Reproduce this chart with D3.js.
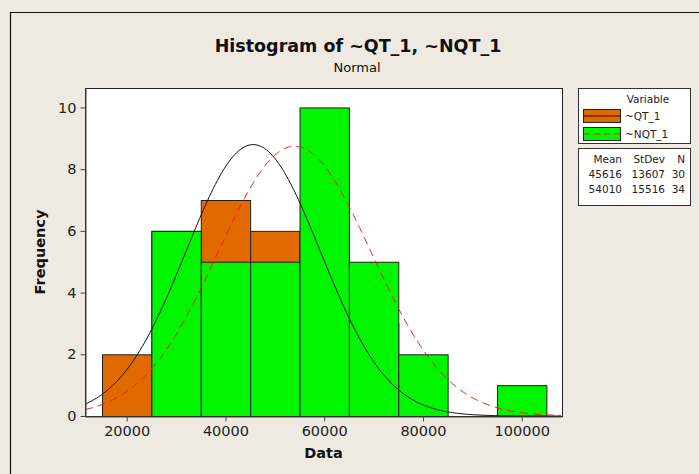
<!DOCTYPE html>
<html>
<head>
<meta charset="utf-8">
<script src="https://cdn.jsdelivr.net/npm/d3@7"></script>
<style>
  body { margin: 0; background: #efeae1; }
  svg { display: block; font-family: "DejaVu Sans", Verdana, sans-serif; }
</style>
</head>
<body>
<svg id="chart"></svg>
<script>
// bin midpoints (bin width 10000)
const binMids = [20000, 30000, 40000, 50000, 60000, 70000, 80000, 90000, 100000];
const qtCounts = [2, 6, 7, 6, 6, 3, 0, 0, 0];
const nqtCounts = [0, 6, 5, 5, 10, 5, 2, 0, 1];
const seriesNames = ["~QT_1", "~NQT_1"];
const means = [45616, 54010];
const stdevs = [13607, 15516];
const ns = [30, 34];
const xTicks = [20000, 40000, 60000, 80000, 100000];
const yTicks = [0, 2, 4, 6, 8, 10];
const binWidth = 10000;

const width = 699, height = 474;
const margin = { left: 85, right: 137, top: 88, bottom: 58 };

const svg = d3.select("#chart")
    .attr("width", width)
    .attr("height", height);

svg.append("rect")
    .attr("width", width).attr("height", height)
    .attr("fill", "#efeae1");

// outer frame (only left and top show)
svg.append("path")
    .attr("d", `M10.5,${height} V12.5 H${width}`)
    .attr("fill", "none")
    .attr("stroke", "#111")
    .attr("stroke-width", 1.2);

const x = d3.scaleLinear()
    .domain([11554, 108160])
    .range([margin.left, width - margin.right]);

const y = d3.scaleLinear()
    .domain([0, 10.63])
    .range([height - margin.bottom, margin.top]);

// plot area
svg.append("rect")
    .attr("x", x.range()[0]).attr("y", y.range()[1])
    .attr("width", x.range()[1] - x.range()[0])
    .attr("height", y.range()[0] - y.range()[1])
    .attr("fill", "white");

const colors = ["#e06a00", "#00f500"];
const counts = [qtCounts, nqtCounts];

counts.forEach((c, i) => {
    svg.append("g")
        .selectAll("rect")
        .data(binMids.map((m, j) => ({ m, v: c[j] })).filter(d => d.v > 0))
        .join("rect")
        .attr("x", d => x(d.m - binWidth / 2) + 0.5)
        .attr("y", d => y(d.v) + 0.5)
        .attr("width", d => x(d.m + binWidth / 2) - x(d.m - binWidth / 2))
        .attr("height", d => y(0) - y(d.v))
        .attr("fill", colors[i])
        .attr("stroke", "#222")
        .attr("stroke-width", 1);
});

// fitted normal curves
const xs = d3.range(x.domain()[0], x.domain()[1] + 1, 400);
const lineStyles = [
    { stroke: "#111", dash: null },
    { stroke: "#ee2222", dash: "8,5" }
];
means.forEach((mu, i) => {
    const sd = stdevs[i];
    const scale = ns[i] * binWidth / (sd * Math.sqrt(2 * Math.PI));
    const pts = xs.map(v => [v, scale * Math.exp(-0.5 * ((v - mu) / sd) ** 2)]);
    svg.append("path")
        .datum(pts)
        .attr("d", d3.line().x(d => x(d[0])).y(d => y(d[1])))
        .attr("fill", "none")
        .attr("stroke", lineStyles[i].stroke)
        .attr("stroke-width", 1)
        .attr("stroke-dasharray", lineStyles[i].dash);
});

// frame of plot area
svg.append("rect")
    .attr("x", x.range()[0] + 0.5).attr("y", y.range()[1] + 0.5)
    .attr("width", x.range()[1] - x.range()[0])
    .attr("height", y.range()[0] - y.range()[1])
    .attr("fill", "none")
    .attr("stroke", "#222");

// axes
const xAxis = svg.append("g")
    .attr("transform", `translate(0,${y(0) + 0.5})`)
    .call(d3.axisBottom(x).tickValues(xTicks).tickFormat(d3.format("d"))
        .tickSize(5).tickSizeOuter(0).tickPadding(4));
const yAxis = svg.append("g")
    .attr("transform", `translate(${x.range()[0] + 0.5},0)`)
    .call(d3.axisLeft(y).tickValues(yTicks).tickSize(5).tickSizeOuter(0).tickPadding(4));
[xAxis, yAxis].forEach(a => {
    a.select(".domain").attr("stroke", "#444");
    a.selectAll(".tick line").attr("stroke", "#444");
    a.selectAll("text").attr("font-size", 14.5).attr("fill", "#222")
        .attr("font-family", "DejaVu Sans, sans-serif");
});

// titles
svg.append("text")
    .attr("x", 358).attr("y", 52)
    .attr("text-anchor", "middle")
    .attr("font-size", 17.5).attr("font-weight", "bold").attr("fill", "#111")
    .text("Histogram of ~QT_1, ~NQT_1");
svg.append("text")
    .attr("x", 357).attr("y", 72)
    .attr("text-anchor", "middle")
    .attr("font-size", 13).attr("fill", "#111")
    .text("Normal");
svg.append("text")
    .attr("x", (x.range()[0] + x.range()[1]) / 2).attr("y", 458)
    .attr("text-anchor", "middle")
    .attr("font-size", 14.5).attr("font-weight", "bold").attr("fill", "#111")
    .text("Data");
svg.append("text")
    .attr("transform", `translate(45,${(y.range()[0] + y.range()[1]) / 2}) rotate(-90)`)
    .attr("text-anchor", "middle")
    .attr("font-size", 14.5).attr("font-weight", "bold").attr("fill", "#111")
    .text("Frequency");

// legend
const lg = svg.append("g");
lg.append("rect")
    .attr("x", 578.5).attr("y", 88.5).attr("width", 112).attr("height", 55)
    .attr("fill", "white").attr("stroke", "#333");
lg.append("text")
    .attr("x", 648).attr("y", 103).attr("text-anchor", "middle")
    .attr("font-size", 10.5).attr("fill", "#222").text("Variable");
seriesNames.forEach((name, i) => {
    const yy = 109 + i * 18;
    lg.append("rect")
        .attr("x", 583.5).attr("y", yy + 0.5).attr("width", 37).attr("height", 13)
        .attr("fill", colors[i]).attr("stroke", "#222");
    lg.append("line")
        .attr("x1", 584).attr("x2", 620).attr("y1", yy + 7).attr("y2", yy + 7)
        .attr("stroke", lineStyles[i].stroke)
        .attr("stroke-dasharray", lineStyles[i].dash ? "6,4" : null);
    lg.append("text")
        .attr("x", 625).attr("y", yy + 11)
        .attr("font-size", 10.5).attr("fill", "#222").text(name);
});

// stats table
const st = svg.append("g");
st.append("rect")
    .attr("x", 578.5).attr("y", 148.5).attr("width", 112).attr("height", 57)
    .attr("fill", "white").attr("stroke", "#333");
const colRight = [622, 665, 685];
["Mean", "StDev", "N"].forEach((h, k) => {
    st.append("text").attr("x", colRight[k]).attr("y", 163)
        .attr("text-anchor", "end").attr("font-size", 10.5).attr("fill", "#222").text(h);
});
means.forEach((mu, i) => {
    [mu, stdevs[i], ns[i]].forEach((v, k) => {
        st.append("text").attr("x", colRight[k]).attr("y", 178 + i * 15)
            .attr("text-anchor", "end").attr("font-size", 10.5).attr("fill", "#222").text(v);
    });
});
</script>
</body>
</html>
